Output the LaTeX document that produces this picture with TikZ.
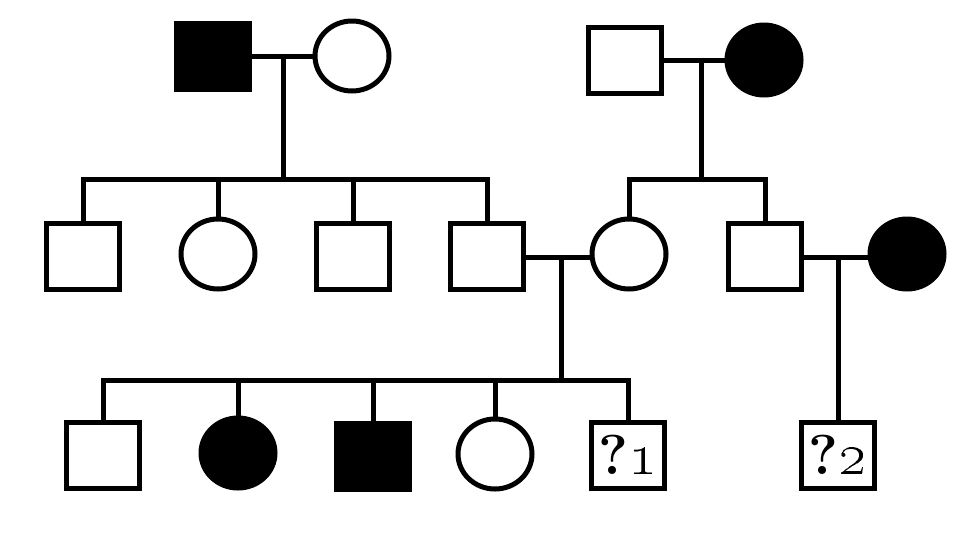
\documentclass[tikz,border=0pt]{standalone}
\usetikzlibrary{shapes.geometric}
\begin{document}
\begin{tikzpicture}[x=0.1mm,y=-0.1mm,
  line width=0.5mm, line cap=rect, line join=miter,
  male/.style={draw, rectangle, minimum width=7.3mm, minimum height=6.6mm, inner sep=0pt},
  female/.style={draw, ellipse, minimum width=7.4mm, minimum height=7.0mm, inner sep=0pt},
  aff/.style={fill=black},
  qlabel/.style={font=\fontsize{16}{19}\selectfont}]
\useasboundingbox (0,0) rectangle (975,542);
% generation 1
\node[male,aff] (f1) at (213,56) {};
\node[female] (m1) at (352,56) {};
\node[male] (f2) at (625,60) {};
\node[female,aff] (m2) at (764,60) {};
\draw (f1) -- (m1);
\draw (f2) -- (m2);
\coordinate (j1) at (283,56);
\coordinate (j2) at (701,60);
\coordinate (b1) at (283,179);
\coordinate (b2) at (701,179);
% generation 2
\node[male] (c11) at (83,256) {};
\node[female] (c12) at (218,254) {};
\node[male] (c13) at (353,256) {};
\node[male] (c14) at (487,256) {};
\node[female] (c21) at (629,254) {};
\node[male] (c22) at (765,256) {};
\node[female,aff] (s22) at (907,254) {};
\draw (j1) -- (b1);
\draw (c11.north) -- (c11.north |- b1) -- (c14.north |- b1) -- (c14.north);
\draw (c12.north) -- (c12.north |- b1);
\draw (c13.north) -- (c13.north |- b1);
\draw (j2) -- (b2);
\draw (c21.north) -- (c21.north |- b2) -- (c22.north |- b2) -- (c22.north);
\draw (c14.east |- 0,257) -- (c21.west |- 0,257);
\draw (c22.east |- 0,257) -- (s22.west |- 0,257);
\coordinate (j3) at (561,257);
\coordinate (b3) at (561,380);
\coordinate (j4) at (838,257);
% generation 3
\node[male] (g1) at (103,455) {};
\node[female,aff] (g2) at (238,453) {};
\node[male,aff] (g3) at (373,456) {};
\node[female] (g4) at (495,454) {};
\node[male,qlabel] (g5) at (628,455) {\bfseries ?\oldstylenums{1}};
\node[male,qlabel] (g6) at (838,455) {\bfseries ?\oldstylenums{2}};
\draw (j3) -- (b3);
\draw (g1.north) -- (g1.north |- b3) -- (g5.north |- b3) -- (g5.north);
\draw (g2.north) -- (g2.north |- b3);
\draw (g3.north) -- (g3.north |- b3);
\draw (g4.north) -- (g4.north |- b3);
\draw (j4) -- (g6.north);
\end{tikzpicture}
\end{document}
